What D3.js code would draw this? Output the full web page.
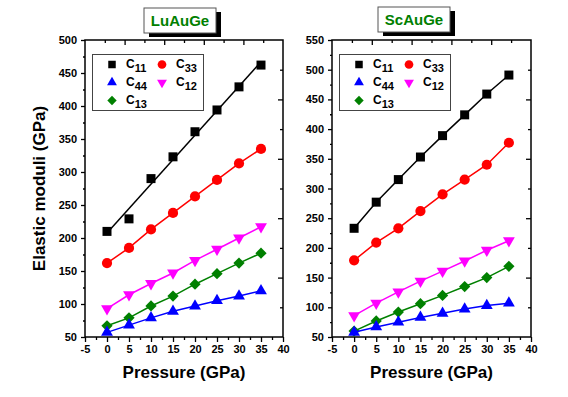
<!DOCTYPE html>
<html>
<head>
<meta charset="utf-8">
<script src="https://cdn.jsdelivr.net/npm/d3@7"></script>
<style>
  body { margin: 0; background: #fff; }
  svg { font-family: "Liberation Sans", Arial, sans-serif; font-weight: bold; }
</style>
</head>
<body>
<svg id="chart" width="568" height="397"></svg>
<script>
// pressure points (GPa)
const pressure = [0, 5, 10, 15, 20, 25, 30, 35];

// LuAuGe elastic constants (GPa)
const luC11 = [210, 229, 290, 323, 361, 394, 429, 462];
const luC33 = [162, 185, 213, 238, 263, 288, 313, 335];
const luC44 = [57, 68, 79, 89, 97, 105, 112, 120];
const luC13 = [67, 79, 97, 112, 130, 146, 162, 177];
const luC12 = [93, 114, 131, 147, 166, 183, 200, 217];

// ScAuGe elastic constants (GPa)
const scC11 = [233, 277, 315, 353, 389, 424, 459, 491];
const scC33 = [179, 209, 233, 262, 290, 315, 340, 377];
const scC44 = [58, 67, 75, 83, 90, 97, 103, 107];
const scC13 = [60, 77, 92, 106, 120, 135, 150, 169];
const scC12 = [86, 107, 126, 144, 161, 178, 196, 212];

const xTicks = [-5, 0, 5, 10, 15, 20, 25, 30, 35, 40];
const luYTicks = [50, 100, 150, 200, 250, 300, 350, 400, 450, 500];
const scYTicks = [50, 100, 150, 200, 250, 300, 350, 400, 450, 500, 550];

const seriesStyle = {
  C11: { sub: "11", color: "#000000", shape: "square" },
  C33: { sub: "33", color: "#ff0000", shape: "circle" },
  C44: { sub: "44", color: "#0000ff", shape: "up" },
  C12: { sub: "12", color: "#ff00ff", shape: "down" },
  C13: { sub: "13", color: "#008000", shape: "diamond" }
};

const panels = [
  {
    title: "LuAuGe", left: 85, right: 283, yDomain: [50, 500], yTicks: luYTicks,
    titleBox: [144, 8, 72, 25],
    series: { C11: luC11, C33: luC33, C44: luC44, C12: luC12, C13: luC13 },
    fitC11: true
  },
  {
    title: "ScAuGe", left: 332, right: 531, yDomain: [50, 550], yTicks: scYTicks,
    titleBox: [378, 7, 72, 25],
    series: { C11: scC11, C33: scC33, C44: scC44, C12: scC12, C13: scC13 },
    fitC11: false
  }
];

const plotTop = 40, plotBottom = 337;
const svg = d3.select("#chart");

function marker(shape, s) {
  // s = nominal size in px
  if (shape === "square") return d3.symbol(d3.symbolSquare, s * s)();
  if (shape === "circle") return d3.symbol(d3.symbolCircle, Math.PI * (s / 2 + 0.6) ** 2)();
  if (shape === "up" || shape === "down") return d3.symbol(d3.symbolTriangle, s * s * 0.75)();
  if (shape === "diamond") return d3.symbol(d3.symbolSquare, s * s * 0.78)();
}
function markerRotate(shape) {
  if (shape === "down") return 180;
  if (shape === "diamond") return 45;
  return 0;
}

// simple least squares line
function linFit(xs, ys) {
  const mx = d3.mean(xs), my = d3.mean(ys);
  const b = d3.sum(xs, (x, i) => (x - mx) * (ys[i] - my)) / d3.sum(xs, x => (x - mx) ** 2);
  return x => my + b * (x - mx);
}

panels.forEach(p => {
  const x = d3.scaleLinear().domain([-5, 40]).range([p.left, p.right]);
  const y = d3.scaleLinear().domain(p.yDomain).range([plotBottom, plotTop]);
  const g = svg.append("g");

  // frame
  g.append("rect")
    .attr("x", p.left).attr("y", plotTop)
    .attr("width", p.right - p.left).attr("height", plotBottom - plotTop)
    .attr("fill", "none").attr("stroke", "#000").attr("stroke-width", 1.5);

  // bottom axis (outward ticks)
  const minorX = d3.range(-2.5, 40, 5);
  g.append("g").attr("transform", `translate(0,${plotBottom})`)
    .call(d3.axisBottom(x).tickValues(xTicks).tickSize(5).tickPadding(3).tickFormat(d => String(d)));
  g.append("g").attr("transform", `translate(0,${plotBottom})`)
    .call(d3.axisBottom(x).tickValues(minorX).tickSize(3).tickFormat(""));

  // left axis (outward ticks)
  const minorY = d3.range(p.yDomain[0] + 25, p.yDomain[1], 50);
  g.append("g").attr("transform", `translate(${p.left},0)`)
    .call(d3.axisLeft(y).tickValues(p.yTicks).tickSize(4).tickPadding(4).tickFormat(d => String(d)));
  g.append("g").attr("transform", `translate(${p.left},0)`)
    .call(d3.axisLeft(y).tickValues(minorY).tickSize(2).tickFormat(""));

  // top and right axes: unlabeled, 10 divisions, inward ticks
  const tx = d3.scaleLinear().domain([0, 10]).range([p.left, p.right]);
  const ty = d3.scaleLinear().domain([0, 10]).range([plotBottom, plotTop]);
  g.append("g").attr("transform", `translate(0,${plotTop})`)
    .call(d3.axisTop(tx).tickValues([2, 4, 6, 8]).tickSize(-5).tickFormat(""));
  g.append("g").attr("transform", `translate(0,${plotTop})`)
    .call(d3.axisTop(tx).tickValues([1, 3, 5, 7, 9]).tickSize(-3).tickFormat(""));
  g.append("g").attr("transform", `translate(${p.right},0)`)
    .call(d3.axisRight(ty).tickValues([2, 4, 6, 8]).tickSize(-5).tickFormat(""));
  g.append("g").attr("transform", `translate(${p.right},0)`)
    .call(d3.axisRight(ty).tickValues([1, 3, 5, 7, 9]).tickSize(-3).tickFormat(""));

  g.selectAll(".domain").attr("stroke", "none");
  g.selectAll(".tick line").attr("stroke", "#000").attr("stroke-width", 1.3);
  g.selectAll(".tick text").attr("font-size", 11).attr("font-weight", "bold")
    .attr("fill", "#000").attr("font-family", "'Liberation Sans', Arial, sans-serif");

  // series lines + markers
  const order = ["C11", "C33", "C12", "C13", "C44"];
  order.forEach(key => {
    const st = seriesStyle[key];
    const vals = p.series[key];
    let linePts;
    if (key === "C11" && p.fitC11) {
      const f = linFit(pressure, vals);
      linePts = [[0, f(0)], [35, f(35)]];
    } else {
      linePts = pressure.map((px, i) => [px, vals[i]]);
    }
    g.append("path")
      .attr("d", d3.line().x(d => x(d[0])).y(d => y(d[1]))(linePts))
      .attr("fill", "none").attr("stroke", st.color).attr("stroke-width", 1.5);

    g.selectAll(null).data(pressure.map((px, i) => [px, vals[i]])).join("path")
      .attr("d", marker(st.shape, 9))
      .attr("transform", d => `translate(${x(d[0])},${y(d[1])}) rotate(${markerRotate(st.shape)})`)
      .attr("fill", st.color);
  });

  // legend
  const lx = p.left + 7.5, ly = 54.5;
  g.append("rect").attr("x", lx).attr("y", ly).attr("width", 111).attr("height", 56)
    .attr("fill", "#fff").attr("stroke", "#444").attr("stroke-width", 1);
  const legendItems = [
    ["C11", 0, 0], ["C33", 1, 0],
    ["C44", 0, 1], ["C12", 1, 1],
    ["C13", 0, 2]
  ];
  legendItems.forEach(([key, col, row]) => {
    const st = seriesStyle[key];
    const sx = lx + 19.5 + col * 50, sy = ly + 10 + row * 18;
    g.append("path").attr("d", marker(st.shape, 7.5))
      .attr("transform", `translate(${sx},${sy}) rotate(${markerRotate(st.shape)})`)
      .attr("fill", st.color);
    const t = g.append("text").attr("x", sx + 14).attr("y", sy + 3)
      .attr("font-size", 12).attr("fill", "#000");
    t.append("tspan").text("C");
    t.append("tspan").attr("dy", 4).attr("font-size", 11).text(st.sub);
  });

  // title box with shadow
  const [bxp, byp, bw, bh] = p.titleBox;
  g.append("rect").attr("x", bxp + 5).attr("y", byp + 4).attr("width", bw).attr("height", bh)
    .attr("fill", "#000");
  g.append("rect").attr("x", bxp).attr("y", byp).attr("width", bw).attr("height", bh)
    .attr("fill", "#fff").attr("stroke", "#555").attr("stroke-width", 1);
  g.append("text").attr("x", bxp + bw / 2).attr("y", byp + 18)
    .attr("text-anchor", "middle").attr("font-size", 15).attr("fill", "#008000")
    .text(p.title);

  // x label
  g.append("text").attr("x", (p.left + p.right) / 2).attr("y", 378)
    .attr("text-anchor", "middle").attr("font-size", 17).attr("fill", "#000")
    .text("Pressure (GPa)");
});

// y label
svg.append("text")
  .attr("transform", `translate(45,${(plotTop + plotBottom) / 2}) rotate(-90)`)
  .attr("text-anchor", "middle").attr("font-size", 17).attr("fill", "#000")
  .text("Elastic moduli (GPa)");
</script>
</body>
</html>
